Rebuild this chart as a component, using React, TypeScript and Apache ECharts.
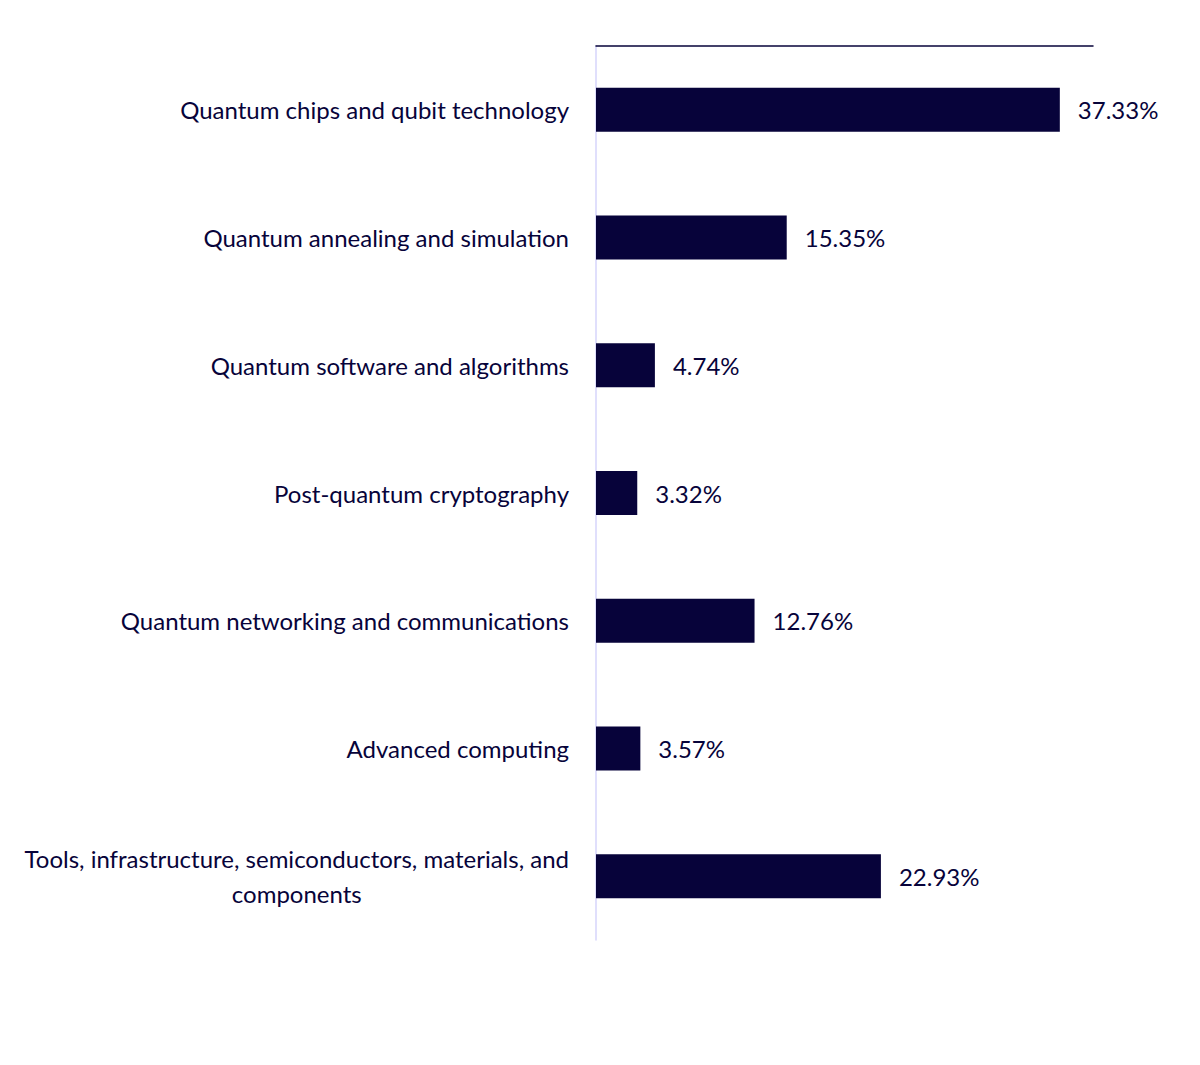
import React, { useEffect, useRef } from "react";
import * as echarts from "echarts";

const categories: string[] = [
  "Quantum chips and qubit technology",
  "Quantum annealing and simulation",
  "Quantum software and algorithms",
  "Post-quantum cryptography",
  "Quantum networking and communications",
  "Advanced computing",
  "Tools, infrastructure, semiconductors, materials, and\ncomponents",
];

const shares: number[] = [37.33, 15.35, 4.74, 3.32, 12.76, 3.57, 22.93];

const NAVY = "#07033a";
const FONT = "Lato, 'Noto Sans', sans-serif";

export default function App() {
  const ref = useRef<HTMLDivElement>(null);
  useEffect(() => {
    if (!ref.current) return;
    const chart = echarts.init(ref.current, undefined, { renderer: "svg" });
    chart.setOption({
      animation: false,
      backgroundColor: "#ffffff",
      grid: { left: 596, top: 46, right: 107, bottom: 125, containLabel: false },
      xAxis: {
        type: "value",
        position: "top",
        min: 0,
        max: 40,
        axisLine: { show: true, lineStyle: { color: NAVY, width: 1.5 } },
        axisTick: { show: false },
        axisLabel: { show: false },
        splitLine: { show: false },
      },
      yAxis: {
        type: "category",
        inverse: true,
        data: categories,
        axisLine: { show: true, lineStyle: { color: "#d6d4fb", width: 1.5 } },
        axisTick: { show: false },
        axisLabel: {
          margin: 27,
          color: NAVY,
          fontFamily: FONT,
          fontSize: 24,
          lineHeight: 35,
          formatter: (v: string) =>
            v
              .split("\n")
              .map((s) => `{c|${s}}`)
              .join("\n"),
          rich: {
            c: {
              align: "center",
              color: NAVY,
              fontFamily: FONT,
              fontSize: 24,
              lineHeight: 35,
            },
          },
        },
      },
      series: [
        {
          type: "bar",
          data: shares,
          barWidth: 44,
          itemStyle: { color: NAVY },
          label: {
            show: true,
            position: "right",
            distance: 18,
            color: NAVY,
            fontFamily: FONT,
            fontSize: 24,
            formatter: (p: any) => `${p.value.toFixed(2)}%`,
          },
        },
      ],
    });
    return () => chart.dispose();
  }, []);
  return (
    <div
      ref={ref}
      style={{ position: "absolute", left: 0, top: 0, width: 1200, height: 1065 }}
    />
  );
}
